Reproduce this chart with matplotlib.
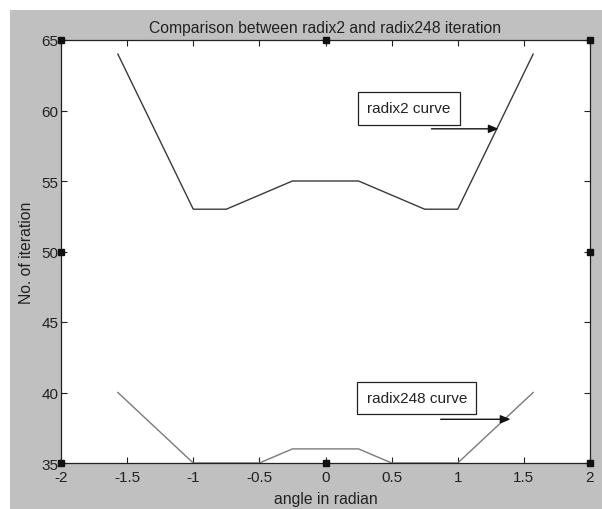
import matplotlib
matplotlib.use("Agg")
import matplotlib.pyplot as plt
from matplotlib.patches import Rectangle

# data
angle = [-1.57, -1.0, -0.75, -0.25, 0.25, 0.75, 1.0, 1.57]
radix2_iter = [64, 53, 53, 55, 55, 53, 53, 64]

angle248 = [-1.57, -1.0, -0.5, -0.25, 0.25, 0.5, 1.0, 1.57]
radix248_iter = [40, 35, 35, 36, 36, 35, 35, 40]

x_ticks = [-2, -1.5, -1, -0.5, 0, 0.5, 1, 1.5, 2]
x_tick_labels = ["-2", "-1.5", "-1", "-0.5", "0", "0.5", "1", "1.5", "2"]
y_ticks = [35, 40, 45, 50, 55, 60, 65]

plt.rcParams["font.family"] = ["Liberation Sans", "DejaVu Sans"]

fig = plt.figure(figsize=(6.02, 5.10), dpi=100)
fig.patch.set_facecolor("white")
# grey matlab figure area (white strip on top / left from the screenshot)
fig.patches.append(Rectangle((10 / 602, 0), 1, 1 - 11 / 510, transform=fig.transFigure,
                             facecolor="#c0c0c0", edgecolor="none", zorder=-10))

ax = fig.add_axes([61 / 602, 46 / 510, 529 / 602, 423 / 510])
ax.set_facecolor("white")

ax.plot(angle, radix2_iter, color="#3a3a3a", lw=1.0)
ax.plot(angle248, radix248_iter, color="#7a7a7a", lw=1.0)

ax.set_xlim(-2, 2)
ax.set_ylim(35, 65)
ax.set_xticks(x_ticks)
ax.set_xticklabels(x_tick_labels)
ax.set_yticks(y_ticks)
ax.tick_params(direction="in", top=True, right=True, length=4, width=0.8,
               labelsize=11, pad=2, colors="#222222")
ax.tick_params(axis="x", pad=5)
for s in ax.spines.values():
    s.set_linewidth(0.9)
    s.set_color("#222222")

ax.set_title("Comparison between radix2 and radix248 iteration", fontsize=11.3,
             color="#222222", pad=6)
ax.set_xlabel("angle in radian", fontsize=11.3, color="#222222", labelpad=5)
ax.set_ylabel("No. of iteration", fontsize=11.3, color="#222222", labelpad=5)

# text boxes with arrows
box = dict(boxstyle="square,pad=0.6", fc="white", ec="#222222", lw=0.9)
ax.text(0.63, 60.15, "radix2 curve", ha="center", va="center", fontsize=11,
        color="#222222", bbox=box)
ax.annotate("", xy=(1.33, 58.7), xytext=(0.78, 58.7),
            arrowprops=dict(arrowstyle="-|>,head_width=0.25,head_length=0.6",
                            color="#111111", lw=1.0))
ax.text(0.69, 39.6, "radix248 curve", ha="center", va="center", fontsize=11,
        color="#222222", bbox=box)
ax.annotate("", xy=(1.42, 38.1), xytext=(0.85, 38.1),
            arrowprops=dict(arrowstyle="-|>,head_width=0.25,head_length=0.6",
                            color="#111111", lw=1.0))

# selection handles on the axes box (edit mode in the original)
hx = [0, 0.5, 1, 0, 1, 0, 0.5, 1]
hy = [1, 1, 1, 0.5, 0.5, 0, 0, 0]
ax.plot(hx, hy, "s", ms=5, mfc="#111111", mec="#111111", transform=ax.transAxes,
        clip_on=False, zorder=5)

fig.savefig("out.png", dpi=100)
